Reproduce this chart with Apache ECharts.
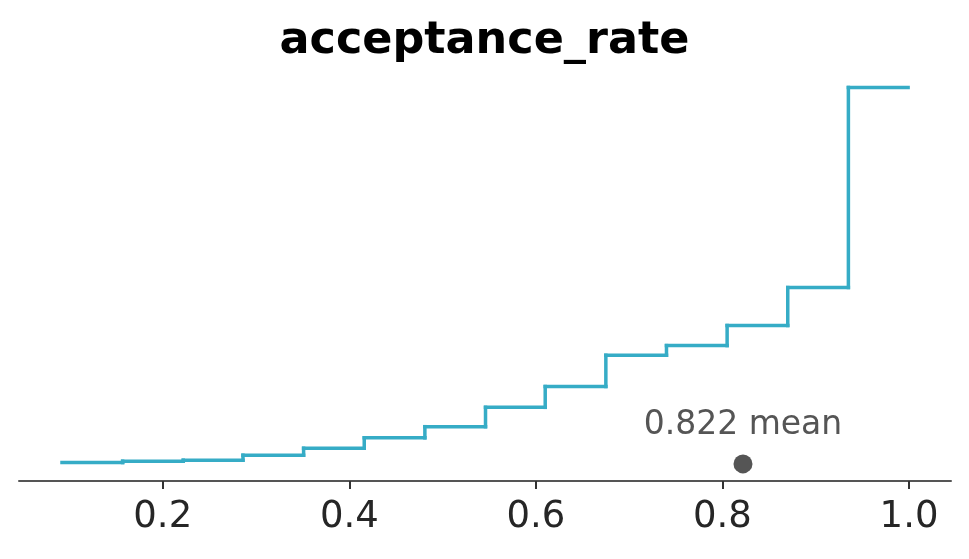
<!DOCTYPE html>
<html>
<head>
<meta charset="utf-8">
<script src="https://cdn.jsdelivr.net/npm/echarts@6/dist/echarts.min.js"></script>
<style>
  html, body { margin: 0; padding: 0; background: #fff; }
  #chart { width: 969px; height: 559px; }
</style>
</head>
<body>
<div id="chart"></div>
<script>
// bordes de los bins
const binEdges = [0.092, 0.157, 0.222, 0.286, 0.351, 0.416, 0.481, 0.546,
                  0.610, 0.675, 0.740, 0.805, 0.870, 0.935, 0.999];
// densidad de cada bin
const density = [0.018, 0.036, 0.050, 0.117, 0.21, 0.35, 0.50, 0.76,
                 1.04, 1.46, 1.59, 1.86, 2.37, 5.06];
const tickValues = [0.2, 0.4, 0.6, 0.8, 1.0];
const meanValue = [0.822];

const lineColor = '#36acc6';

// cada bin: [inicio, fin, densidad, densidad del bin anterior]
const binData = density.map((d, i) => [binEdges[i], binEdges[i + 1], d, i > 0 ? density[i - 1] : d]);

// dibuja el tramo horizontal del bin y el salto vertical desde el bin anterior
function renderStep(params, api) {
    const x0 = api.value(0), x1 = api.value(1);
    const v = api.value(2), pv = api.value(3);
    const a = api.coord([x0, pv]);
    const b = api.coord([x0, v]);
    const c = api.coord([x1, v]);
    const style = { stroke: lineColor, lineWidth: 3.5, lineCap: 'square' };
    return {
        type: 'group',
        children: [
            { type: 'line', shape: { x1: a[0], y1: a[1], x2: b[0], y2: b[1] }, style: style },
            { type: 'line', shape: { x1: b[0], y1: b[1], x2: c[0], y2: c[1] }, style: style }
        ]
    };
}

const chart = echarts.init(document.getElementById('chart'));

const option = {
    backgroundColor: '#ffffff',
    animation: false,
    title: {
        text: 'acceptance_rate',
        left: 'center',
        top: 14,
        textStyle: {
            fontFamily: 'DejaVu Sans',
            fontWeight: 'bold',
            fontSize: 44.5,
            color: '#000'
        }
    },
    grid: { left: 19, right: 18, top: 77, bottom: 78 },
    xAxis: {
        type: 'value',
        min: 0.0459,
        max: 1.045,
        axisLine: { show: true, onZero: false, lineStyle: { color: '#555', width: 2 } },
        axisTick: {
            show: true,
            customValues: tickValues,
            length: 8,
            lineStyle: { color: '#333', width: 2 }
        },
        axisLabel: {
            customValues: tickValues,
            formatter: v => v.toFixed(1),
            fontFamily: 'DejaVu Sans',
            fontSize: 37,
            color: '#262626',
            margin: 18
        },
        splitLine: { show: false }
    },
    yAxis: {
        type: 'value',
        min: -0.23,
        max: 5.2,
        show: false
    },
    series: [
        {
            type: 'custom',
            data: binData,
            encode: { x: [0, 1], y: [2, 3] },
            renderItem: renderStep,
            clip: false,
            silent: true
        },
        {
            type: 'scatter',
            data: meanValue.map(m => [m, 0]),
            symbolSize: 19,
            itemStyle: { color: '#555555', opacity: 1 },
            label: {
                show: true,
                position: 'top',
                distance: 12,
                formatter: p => p.value[0].toFixed(3) + ' mean',
                fontFamily: 'DejaVu Sans',
                fontSize: 33,
                color: '#555555'
            }
        }
    ]
};

chart.setOption(option);
</script>
</body>
</html>
